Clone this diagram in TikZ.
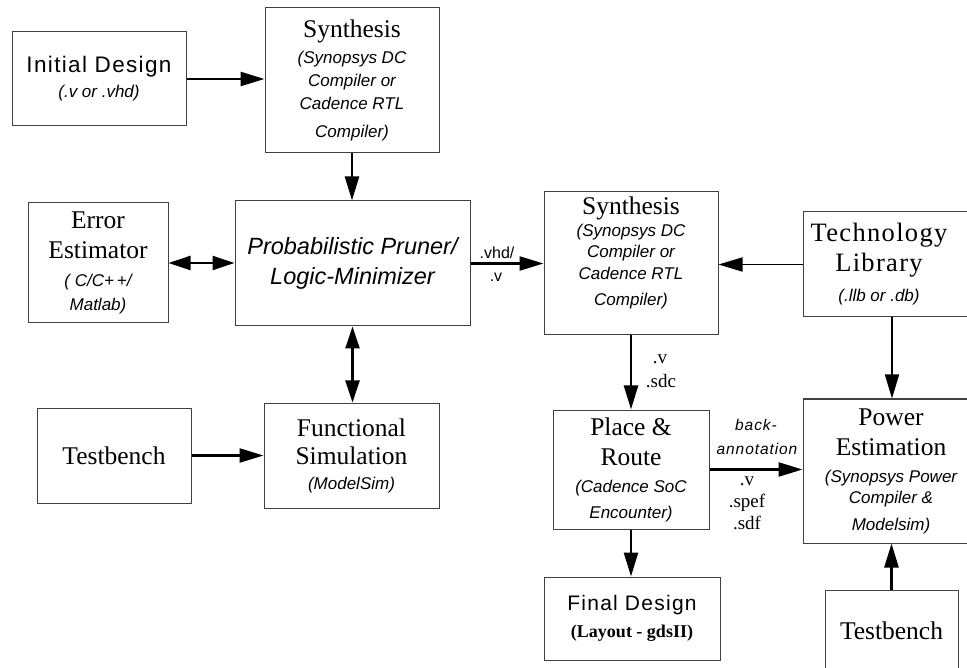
\documentclass[tikz,border=0pt]{standalone}
\usepackage{fontspec}
\setmainfont{Liberation Serif}
\newfontfamily\hv{Liberation Sans}
\newfontfamily\hvsp[LetterSpace=6]{Liberation Sans}
\usetikzlibrary{arrows.meta}

% font shortcuts
\newcommand\subfont{\hv\itshape\fontsize{17}{23}\selectfont}
\newcommand\ttl{\rmfamily\upshape\fontsize{25.5}{28}\selectfont}
\newcommand\sanstitle{\hvsp\upshape\fontsize{22.5}{25}\selectfont}

\begin{document}
\begin{tikzpicture}[x=1pt,y=-1pt,
  box/.style={draw=black!75, line width=1pt, inner sep=0pt, align=center, font=\subfont},
  txt/.style={inner sep=0pt, align=center, font=\subfont},
  arr/.style={line width=2.4pt, -{Triangle[length=24pt,width=14pt]}},
  thinarr/.style={line width=1.7pt, -{Triangle[length=24pt,width=14pt]}},
  darr/.style={line width=2.4pt, {Triangle[length=22pt,width=14pt]}-{Triangle[length=22pt,width=14pt]}},
  lbl/.style={inner sep=0pt, anchor=base},
  serlbl/.style={lbl, font=\rmfamily\fontsize{19}{19}\selectfont},
  sanlbl/.style={lbl, font=\hv\fontsize{16}{16}\selectfont},
  itlbl/.style={lbl, font=\hvsp\itshape\fontsize{15.5}{16}\selectfont},
]
\useasboundingbox (0,0) rectangle (967,668);

% ---- left column and pruning loop ----
\node[box, minimum width=174pt, minimum height=94pt, font=\hv\itshape\fontsize{17}{25}\selectfont]
  (init) at (99,79) {{\sanstitle Initial Design}\\(.v or .vhd)};

\node[box, minimum width=174pt, minimum height=145pt] (syn1) at (352,80.5)
  {{\ttl Synthesis}\\[3pt](Synopsys DC\\Compiler or\\Cadence RTL\\[5pt]Compiler)};

\node[box, minimum width=140pt, minimum height=120pt, font=\hv\itshape\fontsize{17}{24}\selectfont]
  (err) at (98,263) {{\ttl Error}\\[6pt]{\ttl Estimator}\\[4pt]( C/C+\,+/\\Matlab)};

\node[box, minimum width=235pt, minimum height=125pt, font=\hv\itshape\fontsize{23.5}{30}\selectfont]
  (prun) at (352.5,263.5) {Probabilistic Pruner/\\Logic-Minimizer};

\node[box, minimum width=154pt, minimum height=95pt] (tb1) at (114,455.5) {\ttl Testbench};

\node[box, minimum width=175pt, minimum height=105pt, font=\hv\itshape\fontsize{17}{25}\selectfont]
  (fsim) at (351.5,455.5) {{\ttl Functional}\\[3pt]{\ttl Simulation}\\(ModelSim)};

% ---- implementation flow ----
\node[box, minimum width=174pt, minimum height=143pt] (syn2) at (631,263.5) {};
\node[txt, font=\hv\itshape\fontsize{17}{22}\selectfont] (syn2txt) at (631,253)
  {{\ttl Synthesis}\\(Synopsys DC\\[-1pt]Compiler or\\Cadence RTL\\[4pt]Compiler)};

\node[box, minimum width=174pt, minimum height=105pt] (tech) at (890,264.5) {};
\node[txt, font=\hv\itshape\fontsize{17}{30}\selectfont] (techtxt) at (879,264.5)
  {{\rmfamily\upshape\addfontfeatures{LetterSpace=5}\fontsize{26.5}{30}\selectfont Technology}\\
   {\rmfamily\upshape\addfontfeatures{LetterSpace=5}\fontsize{26.5}{30}\selectfont Library}\\(.llb or .db)};

\node[box, minimum width=156pt, minimum height=119pt, font=\hv\itshape\fontsize{17}{26}\selectfont]
  (pr) at (631,469.5) {{\ttl Place \&}\\[4pt]{\ttl Route}\\[1pt](Cadence SoC\\Encounter)};

\node[box, minimum width=176pt, minimum height=144pt, font=\hv\itshape\fontsize{17}{24}\selectfont]
  (pow) at (891,471) {{\ttl Power}\\[6pt]{\ttl Estimation}\\[3pt](Synopsys Power\\[-3pt]Compiler \&\\[3pt]Modelsim)};

\node[box, minimum width=176pt, minimum height=83pt, font=\rmfamily\bfseries\fontsize{18}{27}\selectfont]
  (fin) at (632,618.5) {{\hvsp\mdseries\fontsize{21}{25}\selectfont Final Design}\\(Layout - gdsII)};

\node[box, minimum width=133pt, minimum height=82pt] (tb2) at (891.5,631) {\ttl Testbench};

% ---- connectors ----
\draw[arr]  (init.east) -- (init.east -| syn1.west);
\draw[arr]  (syn1.south) -- (syn1.south |- prun.north);
\draw[darr] (err.east) -- (err.east -| prun.west);
\draw[darr] (prun.south) -- (prun.south |- fsim.north);
\draw[arr]  (tb1.east) -- (tb1.east -| fsim.west);
\draw[arr]  (prun.east) -- (prun.east -| syn2.west);
\draw[thinarr] (tech.west) -- (tech.west -| syn2.east);
\draw[arr]  (syn2.south) -- (syn2.south |- pr.north);
\draw[arr]  (pr.east) -- (pr.east -| pow.west);
\draw[arr]  (pr.south) -- (pr.south |- fin.north);
\coordinate (colR) at (892,0);
\draw[thinarr] (tech.south -| colR) -- (pow.north -| colR);
\draw[arr]  (tb2.north) -- (tb2.north |- pow.south);

% ---- file-format labels ----
\node[sanlbl] (lvhd) at (497,259) {.vhd/};
\node[sanlbl] (lv1) at (496,282) {.v};
\node[serlbl] (lv2) at (660,363) {.v};
\node[serlbl] (lsdc) at (661,388) {.sdc};
\node[itlbl] (lback) at (756,430) {back-};
\node[itlbl] (lann) at (757,454) {annotation};
\node[serlbl] (lv3) at (747,485) {.v};
\node[serlbl] (lspef) at (747,507) {.spef};
\node[serlbl] (lsdf) at (747,529) {.sdf};
\end{tikzpicture}
\end{document}
